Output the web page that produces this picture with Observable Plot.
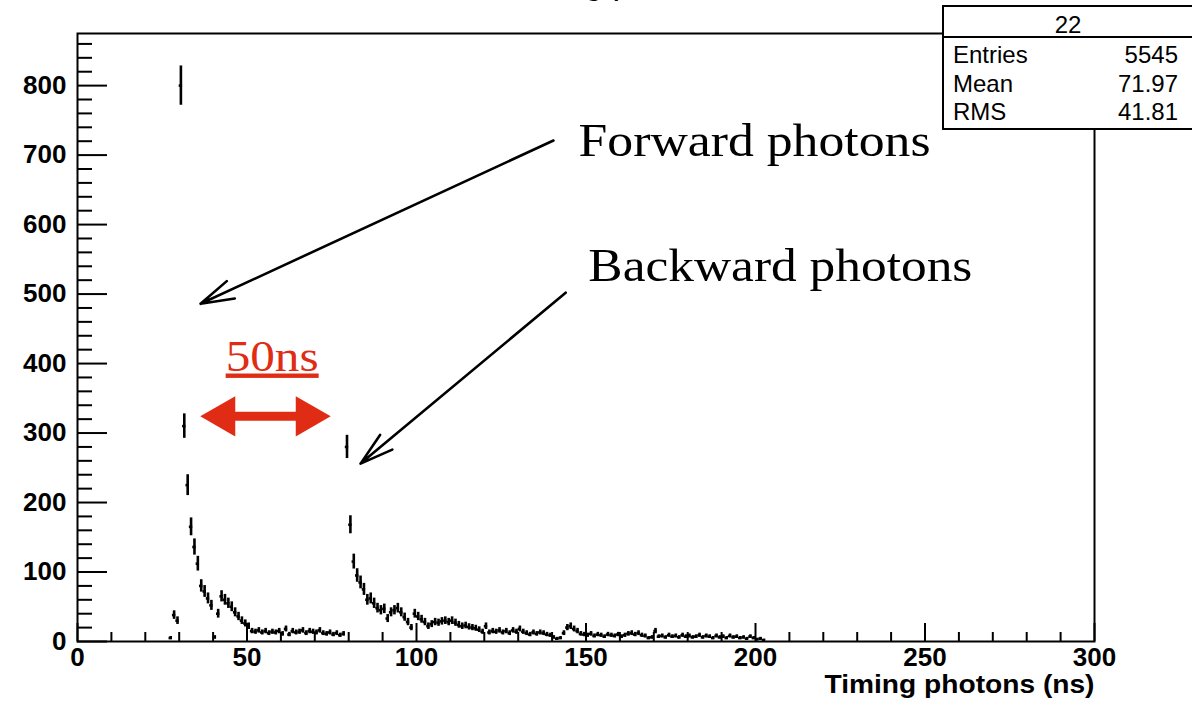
<!DOCTYPE html>
<html><head><meta charset="utf-8">
<script src="https://cdn.jsdelivr.net/npm/d3@7"></script>
<script src="https://cdn.jsdelivr.net/npm/@observablehq/plot@0.6"></script>
<style>
html,body{margin:0;padding:0;background:#fff;overflow:hidden;}
#wrap{position:relative;width:1192px;height:707px;overflow:hidden;}
#wrap svg{position:absolute;left:0;top:0;}
#title{position:absolute;left:418px;width:400px;top:-35px;text-align:center;font-family:"Liberation Sans",Arial,sans-serif;font-size:34px;line-height:34px;}
#stats{position:absolute;left:942px;top:5px;width:252px;height:125px;box-sizing:border-box;border:2px solid #000;background:#fff;font-family:"Liberation Sans",Arial,sans-serif;font-size:24px;line-height:24px;color:#000;}
#stats .sep{position:absolute;left:0;right:0;top:29px;height:0;border-top:2px solid #000;}
#stats .hd{position:absolute;left:0;right:0;text-align:center;top:6px;}
#stats .k{position:absolute;left:9px;}
#stats .v{position:absolute;right:14px;text-align:right;}
</style>
</head><body>
<div id="wrap">
  <div id="chart"></div>
  <div id="title"></div>
  <div id="stats"></div>
</div>
<script>
// ---------------- data (1 ns bins, lower edges in ns) ----------------
const binLow = [
  27,28,29,30,31,32,33,34,35,36,
  37,38,39,40,41,42,43,44,45,46,
  47,48,49,50,51,52,53,54,55,56,
  57,58,59,60,61,62,63,64,65,66,
  67,68,69,70,71,72,73,74,75,76,
  77,78,79,80,81,82,83,84,85,86,
  87,88,89,90,91,92,93,94,95,96,
  97,98,99,100,101,102,103,104,105,106,
  107,108,109,110,111,112,113,114,115,116,
  117,118,119,120,121,122,123,124,125,126,
  127,128,129,130,131,132,133,134,135,136,
  137,138,139,140,141,142,143,144,145,146,
  147,148,149,150,151,152,153,154,155,156,
  157,158,159,160,161,162,163,164,165,166,
  167,168,169,170,171,172,173,174,175,176,
  177,178,179,180,181,182,183,184,185,186,
  187,188,189,190,191,192,193,194,195,196,
  197,198,199,200,201,202
];
const counts = [
  5,38,30,800,310,225,165,136,112,80,
  72,62,52,6,40,65,60,55,50,42,
  36,30,26,22,15,14,16,13,15,12,
  14,13,15,11,18,10,15,13,14,16,
  12,15,14,13,16,12,11,13,10,12,
  9,11,280,168,115,95,85,75,60,62,
  55,48,45,47,33,42,45,48,42,35,
  28,20,40,36,32,28,22,25,28,27,
  29,30,28,30,27,24,22,23,21,20,
  19,17,14,22,13,15,14,16,13,15,
  12,16,14,18,14,12,10,13,11,13,
  12,10,9,6,4,5,12,20,22,18,
  15,11,10,9,11,8,10,9,7,10,
  9,8,10,7,9,11,12,10,12,9,
  8,5,6,15,7,8,6,9,7,8,
  6,9,7,8,6,7,9,6,8,7,
  5,8,6,7,5,8,6,7,5,6,
  4,7,5,3,4,2
];
const binWidth = 1;

const xMajorTicks = [0,50,100,150,200,250,300];
const xMinorTicks = [10,20,30,40,60,70,80,90,110,120,130,140,160,170,180,190,210,220,230,240,260,270,280,290];
const yMajorTicks = [0,100,200,300,400,500,600,700,800];
const yMinorTicks = [20,40,60,80,120,140,160,180,220,240,260,280,320,340,360,380,420,440,460,480,520,540,560,580,620,640,660,680,720,740,760,780,820,840,860];

const plotTitle = "Timing photons";
const xTitle = "Timing photons (ns)";
const statsName = "22";
const statsKeys = ["Entries","Mean","RMS"];
const statsVals = ["5545","71.97","41.81"];

// annotations (data units: ns, counts)
const annotTexts = ["Forward photons","Backward photons"];
const annotX = [147.8, 150.7];
const annotY = [699, 519];
const redLabel = ["50ns"];
const redLabelX = [43.7];
const redLabelY = [390];
const arrowX1 = [140.4, 144.0];
const arrowY1 = [721, 502];
const arrowX2 = [36.3, 83.5];
const arrowY2 = [486, 256];
const redArrowX1 = [36.3];
const redArrowX2 = [74.6];
const redArrowY = [324];

// ---------------- build ----------------
const hist = binLow.map((lo, i) => ({lo, hi: lo + binWidth, n: counts[i]}));
const annots = annotTexts.map((t, i) => ({t, x: annotX[i], y: annotY[i]}));
const reds = redLabel.map((t, i) => ({t, x: redLabelX[i], y: redLabelY[i]}));
const arrows = arrowX1.map((x1, i) => ({x1, y1: arrowY1[i], x2: arrowX2[i], y2: arrowY2[i]}));
const redArrow = redArrowX1.map((x1, i) => ({x1, x2: redArrowX2[i], y: redArrowY[i]}));
const RED = "#e02c14";
const serif = "'Liberation Serif', 'Times New Roman', serif";

const svg = Plot.plot({
  width: 1192, height: 707,
  marginLeft: 77, marginRight: 98, marginTop: 33, marginBottom: 66,
  x: {domain: [0, 300]},
  y: {domain: [0, 875]},
  style: {fontFamily: "'Liberation Sans', Arial, sans-serif", background: "transparent", color: "black"},
  marks: [
    // data: error bars
    Plot.ruleX(hist, {x: d => (d.lo + d.hi) / 2, y1: d => d.n - Math.sqrt(d.n), y2: d => d.n + Math.sqrt(d.n), stroke: "black", strokeWidth: 2.6}),
    Plot.ruleY(hist, {y: "n", x1: "lo", x2: "hi", stroke: "black", strokeWidth: 2.6}),
    // ticks inside frame (ROOT style)
    Plot.ruleX(xMinorTicks, {x: d => d, y1: 0, y2: 0, insetTop: -9, stroke: "black", strokeWidth: 2}),
    Plot.ruleX(xMajorTicks, {x: d => d, y1: 0, y2: 0, insetTop: -18, stroke: "black", strokeWidth: 2}),
    Plot.ruleY(yMinorTicks, {y: d => d, x1: 0, x2: 0, insetRight: -15, stroke: "black", strokeWidth: 2}),
    Plot.ruleY(yMajorTicks, {y: d => d, x1: 0, x2: 0, insetRight: -30, stroke: "black", strokeWidth: 2}),
    Plot.axisX({ticks: xMajorTicks, tickSize: 0, tickPadding: 6, fontSize: 26, fontWeight: "bold", label: null}),
    Plot.axisY({ticks: yMajorTicks, tickSize: 0, tickPadding: 11, fontSize: 26, fontWeight: "bold", label: null}),
    Plot.text([xTitle], {frameAnchor: "bottom-right", text: d => d, textAnchor: "end", lineAnchor: "middle", dy: 43, fontSize: 25, fontWeight: "bold"}),
    Plot.frame({stroke: "black", strokeWidth: 2}),
    // annotations
    Plot.arrow(arrows, {x1: "x1", y1: "y1", x2: "x2", y2: "y2", stroke: "black", strokeWidth: 2.6, headLength: 20, headAngle: 32}),
    Plot.text(annots, {x: "x", y: "y", text: "t", textAnchor: "start", lineAnchor: "bottom", fontSize: 46, fontFamily: serif, fill: "black"}),
    Plot.text(reds, {x: "x", y: "y", text: "t", textAnchor: "start", lineAnchor: "bottom", fontSize: 44, fontFamily: serif, fill: RED}),
    Plot.ruleY(redArrow, {y: "y", x1: "x1", x2: "x2", stroke: RED, strokeWidth: 9, insetLeft: 25, insetRight: 25}),
    Plot.dot(redArrow, {x: "x1", y: "y", symbol: "triangle", r: 15, rotate: -90, fill: RED, stroke: "none", dx: 23}),
    Plot.dot(redArrow, {x: "x2", y: "y", symbol: "triangle", r: 15, rotate: 90, fill: RED, stroke: "none", dx: -23})
  ]
});

// stretch serif annotations to the reference widths (Computer Modern is wider than Times)
const textWidths = {"Forward photons": 352, "Backward photons": 384, "50ns": 93, "Timing photons (ns)": 270};
svg.querySelectorAll("text").forEach(t => {
  const w = textWidths[t.textContent];
  if (w) { t.setAttribute("textLength", w); t.setAttribute("lengthAdjust", "spacingAndGlyphs"); }
  if (t.textContent === "50ns") t.style.textDecoration = "underline";
});
document.getElementById("chart").appendChild(svg);

document.getElementById("title").textContent = plotTitle;
const stats = document.getElementById("stats");
const hd = document.createElement("div"); hd.className = "hd"; hd.textContent = statsName; stats.appendChild(hd);
const sep = document.createElement("div"); sep.className = "sep"; stats.appendChild(sep);
const rowTops = [36, 65, 93];
statsKeys.forEach((k, i) => {
  const a = document.createElement("div"); a.className = "k"; a.style.top = rowTops[i] + "px"; a.textContent = k; stats.appendChild(a);
  const b = document.createElement("div"); b.className = "v"; b.style.top = rowTops[i] + "px"; b.textContent = statsVals[i]; stats.appendChild(b);
});
</script>
</body></html>
